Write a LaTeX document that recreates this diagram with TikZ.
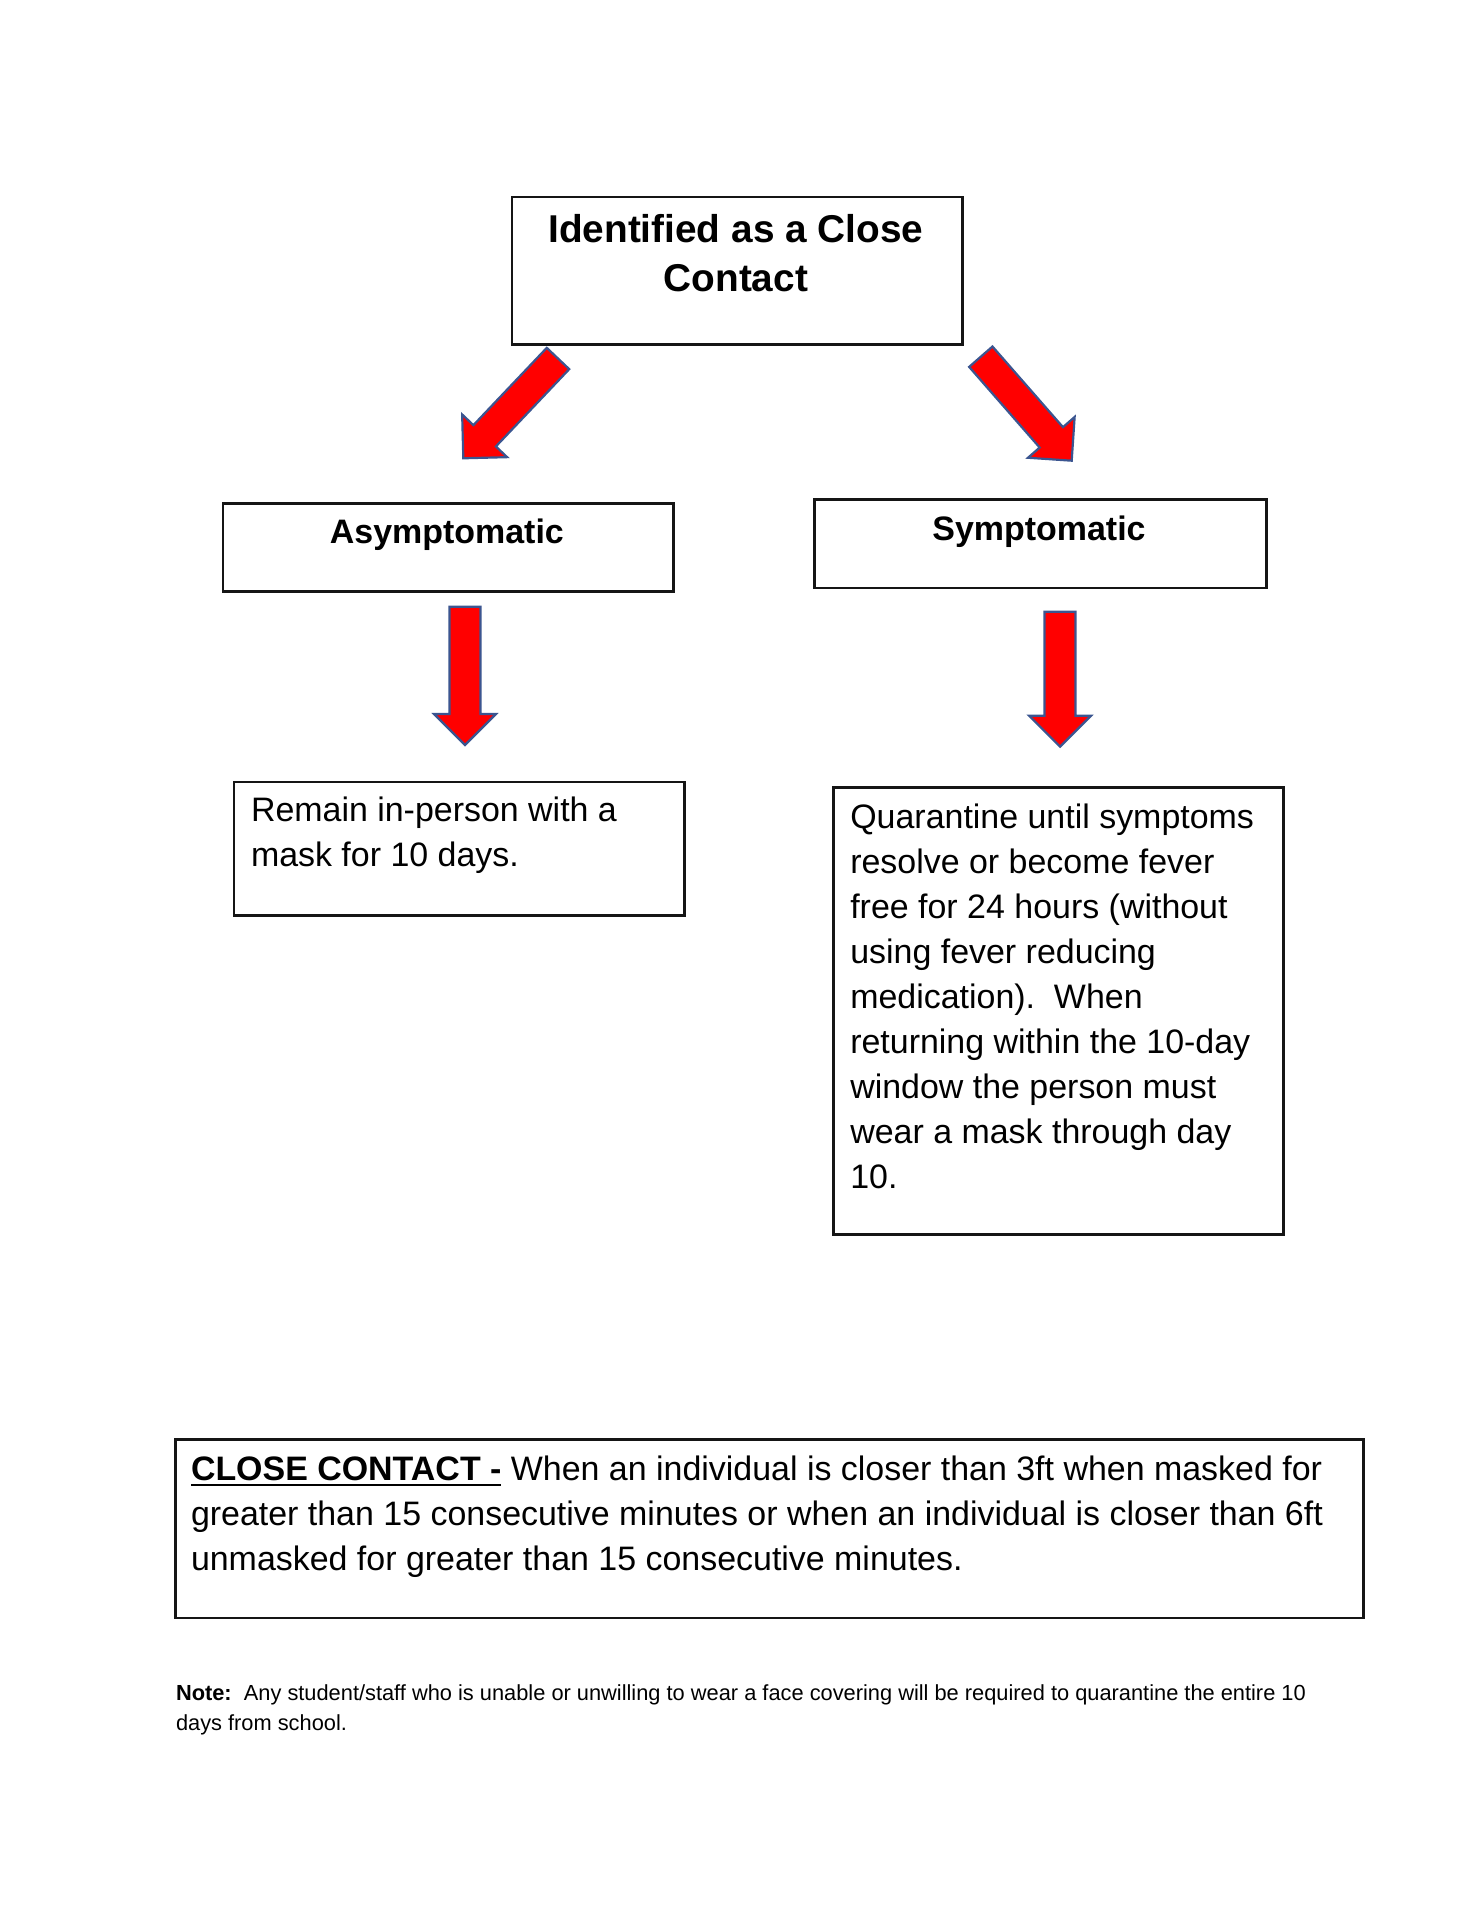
\documentclass[tikz,border=0pt]{standalone}
\usepackage{fontspec}
\setmainfont{Liberation Sans}
\usetikzlibrary{calc}
\newdimen\px \px=0.4125pt
\definecolor{arrowred}{HTML}{FF0000}
\definecolor{arrowline}{HTML}{3B5590}
\definecolor{boxline}{HTML}{151515}
\newcommand\ulbold[1]{\leavevmode\setbox0\hbox{\bfseries #1}\rlap{\rule[-2.6pt]{\wd0}{1pt}}\box0\relax}
\newcommand\blockarrow[2]{%
  \coordinate (#1b) at ($(#2)!12.79pt!(#1)$);
  \draw[blockarrow]
    ($(#1)!6.39pt!90:(#2)$) --
    ($(#1b)!6.39pt!90:(#2)$) --
    ($(#1b)!12.79pt!90:(#2)$) --
    (#2) --
    ($(#1b)!12.79pt!-90:(#2)$) --
    ($(#1b)!6.39pt!-90:(#2)$) --
    ($(#1)!6.39pt!-90:(#2)$) -- cycle;}
\tikzset{
  box/.style={draw=boxline, line width=1.05pt, rectangle, inner sep=0pt, anchor=north west},
  txt/.style={inner sep=0pt, outer sep=0pt},
  blockarrow/.style={fill=arrowred, draw=arrowline, line width=0.9pt, line join=miter},
}
\begin{document}
\begin{tikzpicture}[x=0.4125pt, y=-0.4125pt]
\useasboundingbox[fill=white] (0,0) rectangle (1483,1920);

% boxes
\node[box, minimum width=450.3\px, minimum height=147.6\px] (top) at (510.7,195.7) {};
\node[box, minimum width=450.6\px, minimum height=87.7\px] (asym) at (221.7,502.3) {};
\node[box, minimum width=451.7\px, minimum height=88.4\px] (sym) at (813.3,498.3) {};
\node[box, minimum width=450.6\px, minimum height=133.3\px] (asymres) at (232.7,780.7) {};
\node[box, minimum width=449.7\px, minimum height=447.3\px] (symres) at (832.3,786) {};
\node[box, minimum width=1188.3\px, minimum height=178.2\px] (cc) at (174,1438.3) {};

% texts
\node[txt, anchor=base] (toptext) at (735.8,242.7)
  {\parbox[t]{200pt}{\centering\fontsize{16}{20.2}\selectfont\bfseries Identified as a Close\\Contact}};
\node[txt, anchor=base] (asymtext) at (446.9,543.3)
  {\fontsize{14}{17}\selectfont\bfseries Asymptomatic};
\node[txt, anchor=base] (symtext) at (1039,540)
  {\fontsize{14}{17}\selectfont\bfseries Symptomatic};
\node[txt, anchor=base west] (asymrestext) at (251,821.7)
  {\parbox[t]{180pt}{\raggedright\fontsize{14}{18.56}\selectfont Remain in-person with a\\mask for 10 days.}};
\node[txt, anchor=base west] (symrestext) at (850.3,828.3)
  {\parbox[t]{180pt}{\raggedright\fontsize{14}{18.56}\selectfont
   Quarantine until symptoms\\
   resolve or become fever\\
   free for 24 hours (without\\
   using fever reducing\\
   medication).\ \ When\\
   returning within the 10-day\\
   window the person must\\
   wear a mask through day\\
   10.}};
\node[txt, anchor=base west] (cctext) at (191,1480)
  {\parbox[t]{480pt}{\raggedright\fontsize{14}{18.56}\selectfont
   \ulbold{CLOSE CONTACT -} When an individual is closer than 3ft when masked for\\
   greater than 15 consecutive minutes or when an individual is closer than 6ft\\
   unmasked for greater than 15 consecutive minutes.}};
\node[txt, anchor=base west] (note) at (176,1700)
  {\parbox[t]{500pt}{\raggedright\fontsize{9}{12.6}\selectfont
   \textbf{Note:}\ \ Any student/staff who is unable or unwilling to wear a face covering will be required to quarantine the entire 10\\
   days from school.}};

% arrow end points
\coordinate (la0) at (558,358.5);
\coordinate (la1) at (463.3,458.3);
\coordinate (ra0) at (980.8,356.7);
\coordinate (ra1) at (1071.7,460.7);
\coordinate (ld0) at (465,606.7);
\coordinate (ld1) at (465,745);
\coordinate (rd0) at (1060,611.7);
\coordinate (rd1) at (1060,746.7);

\blockarrow{la0}{la1}
\blockarrow{ra0}{ra1}
\blockarrow{ld0}{ld1}
\blockarrow{rd0}{rd1}
\end{tikzpicture}
\end{document}
